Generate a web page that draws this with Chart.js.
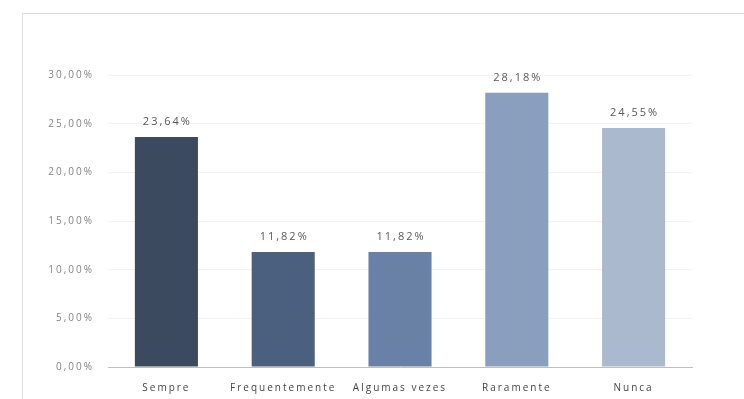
<!DOCTYPE html>
<html>
<head>
<meta charset="utf-8">
<script src="https://cdn.jsdelivr.net/npm/chart.js@4/dist/chart.umd.min.js"></script>
<style>
  html, body { margin: 0; padding: 0; background: #fff; }
  #wrap { position: relative; width: 744px; height: 399px; }
  #frame { position: absolute; left: 22px; top: 13px; right: 0; bottom: 0;
           border-top: 1px solid #dcdcdc; border-left: 1px solid #e2e2e2; pointer-events: none; }
  canvas { position: absolute; left: 0; top: 0; }
</style>
</head>
<body>
<div id="wrap">
  <canvas id="c" width="744" height="399"></canvas>
  <div id="frame"></div>
</div>
<script>
const categories = ["Sempre", "Frequentemente", "Algumas vezes", "Raramente", "Nunca"];
const values = [23.64, 11.82, 11.82, 28.18, 24.55];
const barColors = ["#3b4a5f", "#4b5f7f", "#6881a4", "#8a9fbe", "#abb9ce"];
const yTicks = [0, 5, 10, 15, 20, 25, 30];

const fmt = v => v.toFixed(2).replace('.', ',') + '%';
const FONT = '"Open Sans", Lato, sans-serif';

const spacing = {
  id: 'spacing',
  beforeInit(chart) { chart.ctx.letterSpacing = '2px'; },
  beforeUpdate(chart) { chart.ctx.letterSpacing = '2px'; },
  beforeDraw(chart) { chart.ctx.letterSpacing = '2px'; }
};

const valueLabels = {
  id: 'valueLabels',
  afterDatasetsDraw(chart) {
    const ctx = chart.ctx;
    const meta = chart.getDatasetMeta(0);
    ctx.save();
    ctx.letterSpacing = '2px';
    ctx.font = '11px ' + FONT;
    ctx.fillStyle = '#595959';
    ctx.textAlign = 'center';
    ctx.textBaseline = 'middle';
    meta.data.forEach((bar, i) => {
      ctx.fillText(fmt(chart.data.datasets[0].data[i]), bar.x + 1, bar.y - 15);
    });
    ctx.restore();
  }
};

new Chart(document.getElementById('c'), {
  type: 'bar',
  data: {
    labels: categories,
    datasets: [{
      data: values,
      backgroundColor: barColors,
      barPercentage: 0.54,
      categoryPercentage: 1.0
    }]
  },
  options: {
    responsive: false,
    animation: false,
    devicePixelRatio: 1,
    layout: { padding: { left: 22, right: 52, top: 75, bottom: 0 } },
    plugins: { legend: { display: false }, tooltip: { enabled: false } },
    scales: {
      x: {
        grid: { display: false },
        border: { display: true, color: '#bfbfbf', width: 1 },
        ticks: { color: '#454545', font: { family: FONT, size: 10 }, padding: 7, maxRotation: 0 },
        afterFit: s => { s.height = 32; }
      },
      y: {
        min: 0, max: 30,
        afterBuildTicks: s => { s.ticks = yTicks.map(v => ({ value: v })); },
        grid: { color: '#f3f3f3', drawTicks: false },
        border: { display: false },
        ticks: { color: '#858585', font: { family: FONT, size: 10 }, padding: 14,
                 callback: v => fmt(v) },
        afterFit: s => { s.width = 86; }
      }
    }
  },
  plugins: [spacing, valueLabels]
});
</script>
</body>
</html>
